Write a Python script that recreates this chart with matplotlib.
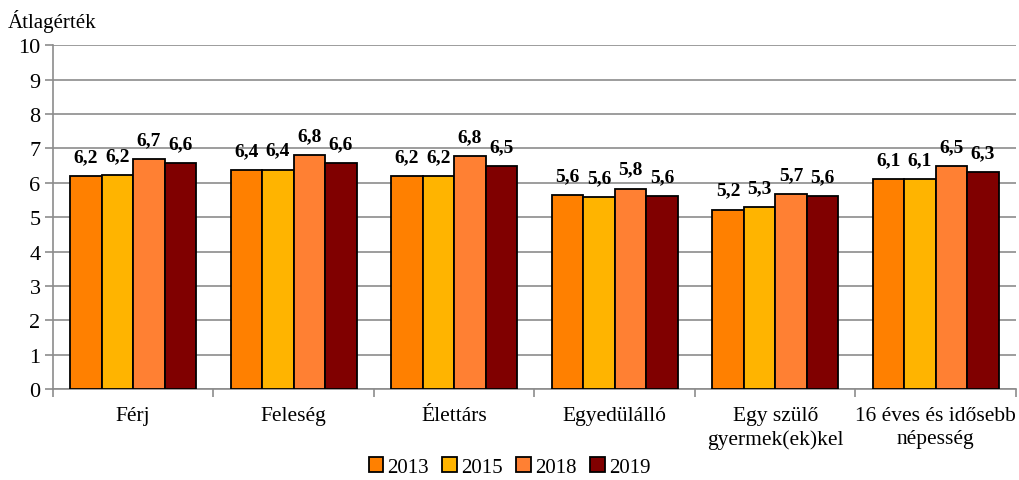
import matplotlib.pyplot as plt
import numpy as np

plt.rcParams['font.family'] = ['Liberation Serif', 'DejaVu Serif']

categories = ["Férj", "Feleség", "Élettárs", "Egyedülálló",
              "Egy szülő\ngyermek(ek)kel", "16 éves és idősebb\nnépesség"]
years = ["2013", "2015", "2018", "2019"]
v2013 = [6.20, 6.36, 6.19, 5.64, 5.22, 6.10]
v2015 = [6.23, 6.38, 6.19, 5.59, 5.30, 6.10]
v2018 = [6.69, 6.80, 6.77, 5.83, 5.68, 6.49]
v2019 = [6.57, 6.56, 6.48, 5.62, 5.62, 6.30]
colors = ["#FF8000", "#FFB400", "#FF8033", "#800000"]

series = [v2013, v2015, v2018, v2019]

fig = plt.figure(figsize=(10.19, 4.81), dpi=100)
ax = fig.add_axes([0.052, 0.189, 0.945, 0.715])

x = np.arange(len(categories))
w = 0.196
for i, (vals, c, yr) in enumerate(zip(series, colors, years)):
    pos = x + (i - 1.5) * w
    bars = ax.bar(pos, vals, w, color=c, edgecolor="black", linewidth=1.3, label=yr, zorder=3)
    for xb, v in zip(pos, vals):
        ax.text(xb, v + 0.32, f"{v:.1f}".replace(".", ","), ha="center", va="bottom",
                fontsize=14, fontweight="bold")

ax.set_xlim(-0.5, len(categories) - 0.5)
ax.set_ylim(0, 10)
ax.set_yticks(range(0, 11))
ax.yaxis.grid(True, color="#8c8c8c", linewidth=1.2, zorder=0)
ax.set_axisbelow(True)
ax.tick_params(axis="y", labelsize=16, length=6, color="#8c8c8c", width=1.2, pad=3)
ax.set_xticks(x)
ax.set_xticklabels(categories, fontsize=15.5, linespacing=1.3)
ax.tick_params(axis="x", length=0, pad=12)
ax.set_xticks(np.arange(-0.5, len(categories)), minor=True)
ax.tick_params(axis="x", which="minor", length=6, color="#8c8c8c", width=1.2)
for s in ["top", "right"]:
    ax.spines[s].set_visible(False)
for s in ["left", "bottom"]:
    ax.spines[s].set_color("#8c8c8c")
    ax.spines[s].set_linewidth(1.2)

fig.text(0.008, 0.955, "Átlagérték", fontsize=15, ha="left", va="center")

leg = fig.legend(loc="center", bbox_to_anchor=(0.5, 0.027), ncol=4, frameon=False,
                 fontsize=15, handlelength=0.7, handleheight=0.7, handletextpad=0.2,
                 columnspacing=0.65)

fig.savefig("out.png", dpi=100)
